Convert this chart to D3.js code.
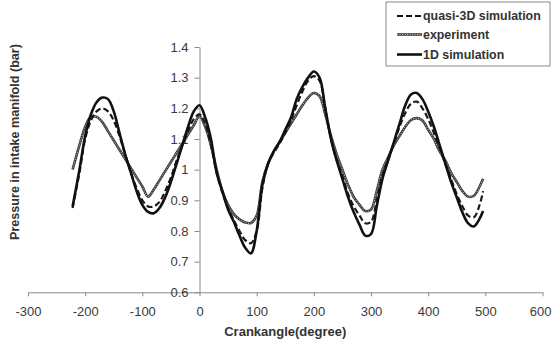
<!DOCTYPE html>
<html>
<head>
<meta charset="utf-8">
<script src="https://cdn.jsdelivr.net/npm/d3@7"></script>
<style>
  body { margin: 0; background: #fff; }
  svg { display: block; font-family: "Liberation Sans", Arial, sans-serif; }
</style>
</head>
<body>
<div id="chart"></div>
<script>
// Crank angle (degree) shared by all series
const crankAngle = [-222, -210, -200, -190, -180, -170, -160, -150, -140, -130, -120, -110, -100, -90, -80, -70, -60, -50, -40, -30, -20, -10,
    0, 10, 20, 30, 40, 50, 60, 70, 80, 90, 100, 110, 120, 130, 140, 150, 160, 170, 180, 190, 200, 210, 220, 230, 240, 250, 260, 270, 280, 290,
    300, 310, 320, 330, 340, 350, 360, 370, 380, 390, 400, 410, 420, 430, 440, 450, 460, 470, 480, 490, 496];

// Pressure in intake manifold (bar)
const quasi3D = [0.875, 0.99, 1.10, 1.16, 1.19, 1.20, 1.19, 1.16, 1.11, 1.05, 0.99, 0.94, 0.90, 0.88, 0.88, 0.895, 0.93, 0.975, 1.03, 1.08, 1.125, 1.165,
    1.18, 1.15, 1.08, 0.99, 0.925, 0.875, 0.835, 0.80, 0.77, 0.76, 0.80, 0.94, 1.02, 1.055, 1.085, 1.12, 1.16, 1.21, 1.255, 1.29, 1.305, 1.29, 1.20, 1.10, 1.03, 0.98, 0.92, 0.88, 0.85, 0.825,
    0.83, 0.90, 0.98, 1.035, 1.085, 1.14, 1.185, 1.215, 1.222, 1.20, 1.165, 1.12, 1.07, 1.02, 0.97, 0.92, 0.88, 0.85, 0.845, 0.885, 0.93];

const experiment = [1.00, 1.08, 1.14, 1.172, 1.172, 1.155, 1.125, 1.095, 1.065, 1.035, 1.005, 0.975, 0.945, 0.912, 0.935, 0.965, 0.995, 1.025, 1.055, 1.085, 1.115, 1.145,
    1.174, 1.14, 1.08, 1.0, 0.93, 0.885, 0.855, 0.838, 0.828, 0.826, 0.85, 0.96, 1.02, 1.06, 1.09, 1.12, 1.15, 1.18, 1.21, 1.235, 1.25, 1.24, 1.18, 1.11, 1.05, 1.0, 0.95, 0.91, 0.885, 0.865,
    0.87, 0.93, 1.0, 1.04, 1.08, 1.11, 1.14, 1.162, 1.168, 1.16, 1.13, 1.10, 1.06, 1.03, 0.99, 0.96, 0.93, 0.912, 0.915, 0.945, 0.97];

const sim1D = [0.88, 1.00, 1.11, 1.18, 1.22, 1.235, 1.23, 1.19, 1.12, 1.05, 0.99, 0.93, 0.885, 0.862, 0.858, 0.875, 0.91, 0.96, 1.02, 1.08, 1.14, 1.19,
    1.21, 1.17, 1.10, 0.99, 0.93, 0.87, 0.83, 0.785, 0.745, 0.727, 0.80, 0.95, 1.02, 1.06, 1.09, 1.13, 1.17, 1.23, 1.27, 1.30, 1.32, 1.30, 1.20, 1.10, 1.03, 0.97, 0.91, 0.86, 0.82, 0.785,
    0.79, 0.88, 0.97, 1.03, 1.09, 1.15, 1.21, 1.245, 1.25, 1.23, 1.19, 1.14, 1.08, 1.02, 0.96, 0.91, 0.86, 0.825, 0.815, 0.84, 0.865];

const xTicks = [-300, -200, -100, 0, 100, 200, 300, 400, 500, 600];
const yTicks = [0.6, 0.7, 0.8, 0.9, 1.0, 1.1, 1.2, 1.3, 1.4];
const seriesNames = ["quasi-3D simulation", "experiment", "1D simulation"];

const width = 552;
const height = 343;
const margin = { top: 47, right: 10, bottom: 51, left: 28 };

const svg = d3.select("#chart").append("svg")
    .attr("width", width)
    .attr("height", height);

// scales
const x = d3.scaleLinear().domain([-300, 600]).range([margin.left, 542.5]);
const y = d3.scaleLinear().domain([0.6, 1.4]).range([292.3, margin.top]);

// x axis sits on y = 0.6, y axis crosses at x = 0
const xAxis = svg.append("g")
    .attr("transform", "translate(0," + y(0.6) + ")")
    .call(d3.axisBottom(x).tickValues(xTicks).tickSize(4).tickPadding(10).tickSizeOuter(0)
        .tickFormat(d => String(d)));

const yAxis = svg.append("g")
    .attr("transform", "translate(" + x(0) + ",0)")
    .call(d3.axisLeft(y).tickValues(yTicks).tickSize(5).tickPadding(6).tickSizeOuter(0)
        .tickFormat(d => String(+d.toFixed(1))));

[xAxis, yAxis].forEach(a => {
    a.select(".domain").attr("stroke", "#8a8a8a");
    a.selectAll(".tick line").attr("stroke", "#8a8a8a");
    a.selectAll(".tick text")
        .attr("fill", "#3a3a3a")
        .style("font-size", "13px")
        .style("font-family", "'Liberation Sans', Arial, sans-serif");
});

// keep the last label inside the window
xAxis.selectAll(".tick text")
    .filter(d => d === 600)
    .attr("text-anchor", "end")
    .attr("x", width - 1 - x(600));

// axis titles
svg.append("text")
    .attr("x", (x(-300) + x(600)) / 2)
    .attr("y", 336)
    .attr("text-anchor", "middle")
    .attr("fill", "#333")
    .style("font-size", "13px")
    .style("font-weight", "bold")
    .text("Crankangle(degree)");

svg.append("text")
    .attr("transform", "translate(19,142) rotate(-90)")
    .attr("text-anchor", "middle")
    .attr("fill", "#333")
    .style("font-size", "12.6px")
    .style("font-weight", "bold")
    .text("Pressure in intake manifold (bar)");

// lines
const line = d3.line()
    .x((d, i) => x(crankAngle[i]))
    .y(d => y(d))
    .curve(d3.curveCatmullRom.alpha(0.5));

const plot = svg.append("g");

// experiment: textured grey line
plot.append("path")
    .attr("d", line(experiment))
    .attr("fill", "none")
    .attr("stroke", "#3c3c3c")
    .attr("stroke-width", 2.6);
plot.append("path")
    .attr("d", line(experiment))
    .attr("fill", "none")
    .attr("stroke", "#d8d8d8")
    .attr("stroke-width", 0.9)
    .attr("stroke-dasharray", "1,1.5");

// quasi-3D: dashed
plot.append("path")
    .attr("d", line(quasi3D))
    .attr("fill", "none")
    .attr("stroke", "#1a1a1a")
    .attr("stroke-width", 2.2)
    .attr("stroke-dasharray", "6,3");

// 1D: solid
plot.append("path")
    .attr("d", line(sim1D))
    .attr("fill", "none")
    .attr("stroke", "#111")
    .attr("stroke-width", 2.6);

// legend
const legend = svg.append("g").attr("transform", "translate(386,2)");
legend.append("rect")
    .attr("width", 164)
    .attr("height", 64)
    .attr("fill", "#fff")
    .attr("stroke", "#8a8a8a");

const legendY = [14, 32.5, 52.5];
seriesNames.forEach((name, i) => {
    const g = legend.append("g").attr("transform", "translate(0," + legendY[i] + ")");
    if (i === 1) {
        g.append("line").attr("x1", 11).attr("x2", 36)
            .attr("stroke", "#3c3c3c").attr("stroke-width", 2.6);
        g.append("line").attr("x1", 11).attr("x2", 36)
            .attr("stroke", "#d8d8d8").attr("stroke-width", 0.9).attr("stroke-dasharray", "1,1.5");
    } else {
        g.append("line").attr("x1", 11).attr("x2", 36)
            .attr("stroke", "#111").attr("stroke-width", i === 0 ? 2.2 : 2.6)
            .attr("stroke-dasharray", i === 0 ? "6,3" : null);
    }
    g.append("text")
        .attr("x", 37)
        .attr("dy", "0.35em")
        .attr("fill", "#333")
        .style("font-size", "12.4px")
        .style("font-weight", "bold")
        .text(name);
});
</script>
</body>
</html>
